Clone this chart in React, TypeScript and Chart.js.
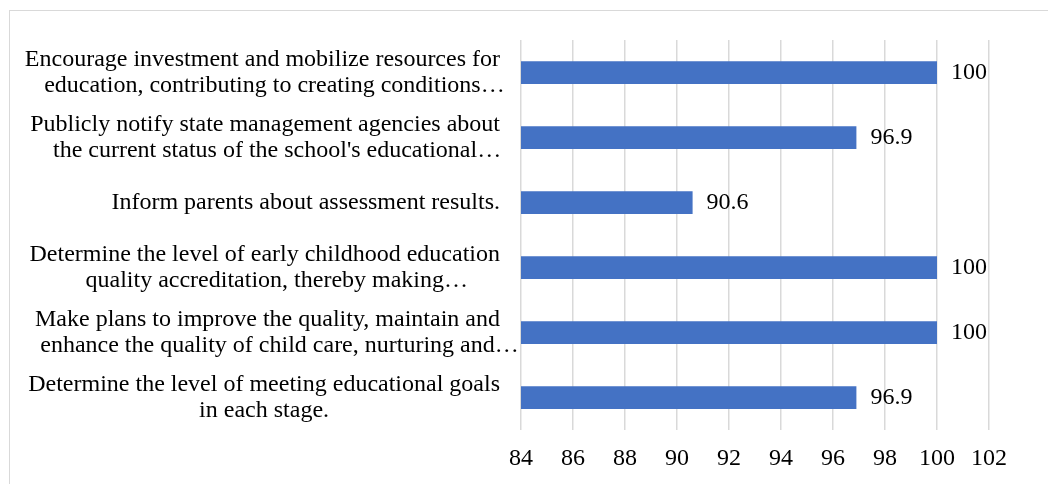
import React, { useEffect, useRef } from "react";
import { Chart, registerables } from "chart.js";

Chart.register(...registerables);

const categories: string[][] = [
  ["Encourage investment and mobilize resources for", "education, contributing to creating conditions…"],
  ["Publicly notify state management agencies about", "the current status of the school's educational…"],
  ["Inform parents about assessment results."],
  ["Determine the level of early childhood education", "quality accreditation, thereby making…"],
  ["Make plans to improve the quality, maintain and", "enhance the quality of child care, nurturing and…"],
  ["Determine the level of meeting educational goals", "in each stage."],
];

const values: number[] = [100, 96.9, 90.6, 100, 100, 96.9];
const valueLabels: string[] = ["100", "96.9", "90.6", "100", "100", "96.9"];

const xMin = 84;
const xMax = 102;
const xStep = 2;

const FONT = "'Liberation Serif', 'Times New Roman', serif";
const BAR_COLOR = "#4472C4";
const GRID_COLOR = "#d9d9d9";
const ELLIPSIS = "…";

const labelPlugin = {
  id: "customLabels",
  afterDraw(chart: any) {
    const ctx = chart.ctx;
    const yScale = chart.scales.y;
    const xScale = chart.scales.x;
    ctx.save();
    ctx.font = `24px ${FONT}`;
    ctx.fillStyle = "#000";
    ctx.textBaseline = "middle";
    ctx.textAlign = "left";
    const lineH = 26;
    const rightEdge = xScale.left - 21;
    categories.forEach((lines, i) => {
      const cy = yScale.getPixelForTick(i);
      // width used for centering excludes a trailing ellipsis
      const centerWidths = lines.map((l) =>
        ctx.measureText(l.endsWith(ELLIPSIS) ? l.slice(0, -1) : l).width
      );
      const blockW = Math.max(...centerWidths);
      const cx = rightEdge - blockW / 2;
      lines.forEach((l, j) => {
        const y = cy + (j - (lines.length - 1) / 2) * lineH;
        ctx.fillText(l, cx - centerWidths[j] / 2, y);
      });
    });
    // value labels
    const meta = chart.getDatasetMeta(0);
    meta.data.forEach((bar: any, i: number) => {
      ctx.fillText(valueLabels[i], bar.x + 14, bar.y);
    });
    ctx.restore();
  },
};

export default function App() {
  const canvasRef = useRef<HTMLCanvasElement | null>(null);

  useEffect(() => {
    if (!canvasRef.current) return;
    const chart = new Chart(canvasRef.current, {
      type: "bar",
      data: {
        labels: categories.map((c) => c.join(" ")),
        datasets: [
          {
            data: values,
            backgroundColor: BAR_COLOR,
            borderWidth: 0,
            barPercentage: 0.35,
            categoryPercentage: 1,
          },
        ],
      },
      options: {
        indexAxis: "y",
        responsive: false,
        animation: false,
        devicePixelRatio: 1,
        layout: { padding: { left: 0, right: 59, top: 40, bottom: 0 } },
        plugins: {
          legend: { display: false },
          tooltip: { enabled: false },
        },
        scales: {
          x: {
            min: xMin,
            max: xMax,
            ticks: {
              stepSize: xStep,
              font: { family: FONT, size: 24 },
              color: "#000",
              padding: 14,
            },
            grid: { color: GRID_COLOR, lineWidth: 1.5, drawTicks: false },
            border: { display: false },
            afterFit: (scale: any) => {
              scale.height = 54;
            },
          },
          y: {
            ticks: { display: false },
            grid: { display: false },
            border: { display: false },
            afterFit: (scale: any) => {
              scale.width = 521;
            },
          },
        },
      },
      plugins: [labelPlugin],
    });
    return () => chart.destroy();
  }, []);

  return (
    <div style={{ position: "absolute", left: 0, top: 0, width: 1048, height: 484, overflow: "hidden", background: "#fff" }}>
      <div
        style={{
          position: "absolute",
          left: 9,
          top: 10,
          width: 1100,
          height: 600,
          border: `1px solid ${GRID_COLOR}`,
          boxSizing: "border-box",
        }}
      />
      <canvas
        ref={canvasRef}
        width={1048}
        height={484}
        style={{ position: "absolute", left: 0, top: 0, width: 1048, height: 484 }}
      />
    </div>
  );
}
